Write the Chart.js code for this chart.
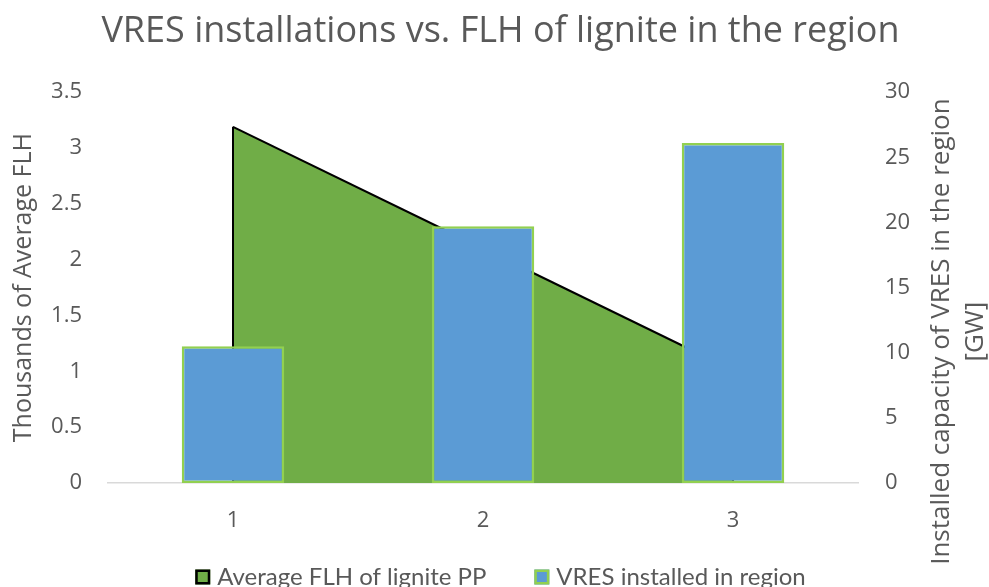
<!DOCTYPE html>
<html><head><meta charset="utf-8">
<script src="https://cdn.jsdelivr.net/npm/chart.js@4.4.0/dist/chart.umd.min.js"></script>
<style>html,body{margin:0;padding:0;background:#fff}</style>
</head><body>
<canvas id="c" width="989" height="587"></canvas>
<script>
const categories = ['1', '2', '3'];
const flhThousands = [3.19, 2.10, 1.01];
const vresGW = [10.5, 19.7, 26.1];
const leftAxis = { min: 0, max: 3.5, step: 0.5 };
const rightAxis = { min: 0, max: 30, step: 5 };
const seriesNames = ['Average FLH of lignite PP', 'VRES installed in region'];
const titleText = 'VRES installations vs. FLH of lignite in the region';
const leftTitle = 'Thousands of Average FLH';
const rightTitleLines = ['Installed capacity of VRES in the region', '[GW]'];

const GREY = '#595959';
const FONT = "'Open Sans', sans-serif";
const LEGEND_FONT = "24px Lato, sans-serif";

const areaEdges = {
  id: 'areaEdges',
  afterDatasetDraw(chart, args) {
    if (args.index !== 0) return;
    const ctx = chart.ctx;
    const base = chart.scales.y.getPixelForValue(0);
    const pts = args.meta.data;
    ctx.save();
    ctx.strokeStyle = '#000';
    ctx.lineWidth = 2;
    [pts[0], pts[pts.length - 1]].forEach(p => {
      ctx.beginPath();
      ctx.moveTo(p.x, p.y);
      ctx.lineTo(p.x, base);
      ctx.stroke();
    });
    ctx.restore();
  }
};

const rightTitle = {
  id: 'rightTitle',
  afterDraw(chart) {
    const ctx = chart.ctx;
    const s = chart.scales.y2;
    const cy = chart.chartArea.top + (chart.chartArea.bottom - chart.chartArea.top) / 2 + 44;
    ctx.save();
    ctx.fillStyle = GREY;
    ctx.font = "26px " + FONT;
    ctx.textAlign = 'center';
    ctx.textBaseline = 'middle';
    const xs = [s.right - 47, s.right - 13];
    rightTitleLines.forEach((t, i) => {
      ctx.save();
      ctx.translate(xs[i], cy);
      ctx.rotate(-Math.PI / 2);
      ctx.fillText(t, 0, 0);
      ctx.restore();
    });
    ctx.restore();
  }
};

const bottomLegend = {
  id: 'bottomLegend',
  afterDraw(chart) {
    const ctx = chart.ctx;
    const ds = chart.data.datasets;
    const box = 15, gapBox = 7, gapItem = 48;
    ctx.save();
    ctx.font = LEGEND_FONT;
    const widths = ds.map(d => ctx.measureText(d.label).width);
    let total = 0;
    widths.forEach((w, i) => { total += box + gapBox + w + (i < widths.length - 1 ? gapItem : 0); });
    let x = chart.width / 2 + 6 - total / 2;
    const cy = 577;
    ds.forEach((d, i) => {
      ctx.fillStyle = d.backgroundColor;
      ctx.fillRect(x, cy - box / 2, box, box);
      ctx.strokeStyle = d.borderColor;
      ctx.lineWidth = 2.5;
      ctx.strokeRect(x + 1.25, cy - box / 2 + 1.25, box - 2.5, box - 2.5);
      ctx.fillStyle = GREY;
      ctx.textAlign = 'left';
      ctx.textBaseline = 'middle';
      ctx.fillText(d.label, x + box + gapBox, cy);
      x += box + gapBox + widths[i] + gapItem;
    });
    ctx.restore();
  }
};

new Chart(document.getElementById('c'), {
  data: {
    labels: categories,
    datasets: [
      {
        type: 'line',
        label: seriesNames[0],
        data: flhThousands,
        yAxisID: 'y',
        borderColor: '#000000',
        borderWidth: 2,
        backgroundColor: '#70AD47',
        fill: 'origin',
        pointRadius: 0,
        tension: 0,
        order: 2
      },
      {
        type: 'bar',
        label: seriesNames[1],
        data: vresGW,
        yAxisID: 'y2',
        backgroundColor: '#5B9BD5',
        borderColor: '#92D050',
        borderWidth: 2.5,
        borderSkipped: false,
        categoryPercentage: 1,
        barPercentage: 0.41,
        order: 1
      }
    ]
  },
  options: {
    responsive: false,
    animation: false,
    devicePixelRatio: 1,
    layout: { padding: { top: 0, left: 12, right: 0, bottom: 0 } },
    plugins: {
      tooltip: { enabled: false },
      legend: { display: false },
      title: {
        display: true,
        text: titleText,
        color: GREY,
        font: { family: FONT, size: 36, weight: 'normal' },
        padding: { top: 10, bottom: 39 }
      }
    },
    scales: {
      x: {
        type: 'category',
        offset: true,
        grid: { display: false, drawTicks: false },
        border: { display: true, color: '#D9D9D9', width: 1.5 },
        ticks: { color: GREY, font: { family: FONT, size: 22 }, padding: 25 },
        afterFit(s) { s.height = 104; }
      },
      y: {
        type: 'linear',
        position: 'left',
        min: leftAxis.min,
        max: leftAxis.max,
        ticks: { stepSize: leftAxis.step, color: GREY, font: { family: FONT, size: 22 }, padding: 26, callback: v => String(v) },
        grid: { display: false, drawTicks: false },
        border: { display: false },
        title: { display: true, text: leftTitle, color: GREY, font: { family: FONT, size: 25 }, padding: { top: -3, bottom: 0 } },
        afterFit(s) { s.width = 96; }
      },
      y2: {
        type: 'linear',
        position: 'right',
        min: rightAxis.min,
        max: rightAxis.max,
        ticks: { stepSize: rightAxis.step, color: GREY, font: { family: FONT, size: 22 }, padding: 27, callback: v => String(v) },
        grid: { display: false, drawTicks: false, drawOnChartArea: false },
        border: { display: false },
        afterFit(s) { s.width = 131; }
      }
    }
  },
  plugins: [areaEdges, rightTitle, bottomLegend]
});
</script>
</body></html>
